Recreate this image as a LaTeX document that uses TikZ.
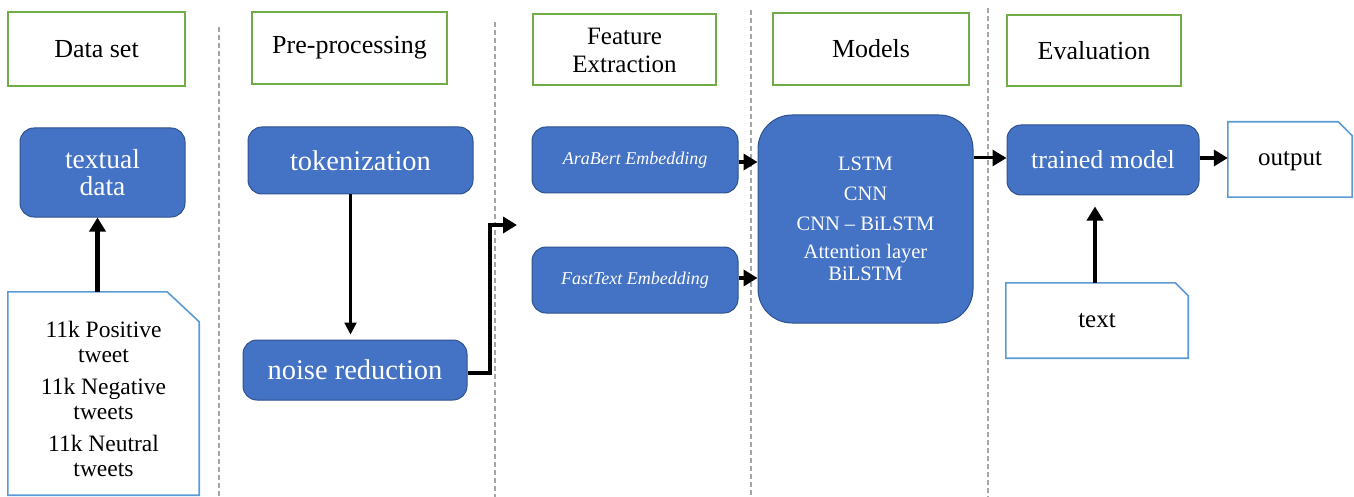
\documentclass[tikz,border=0pt]{standalone}
\usepackage{fontspec}
\setmainfont{Liberation Serif}
\usetikzlibrary{arrows.meta,calc}
\definecolor{bfill}{HTML}{4472C4}
\definecolor{bdraw}{HTML}{2F528F}
\definecolor{gdraw}{HTML}{70AD47}
\definecolor{ddraw}{HTML}{5B9BD5}
\definecolor{divc}{HTML}{A6A6A6}
\tikzset{
  hdr/.style={draw=gdraw,line width=2pt,fill=white,inner sep=0pt,align=center,
    font=\fontsize{26}{28}\selectfont},
  bluebox/.style={draw=bdraw,line width=1pt,fill=bfill,text=white,inner sep=0pt,
    rounded corners=14pt,align=center,font=\fontsize{28.5}{30}\selectfont},
  docbox/.style={inner sep=0pt,align=center,font=\fontsize{25}{28}\selectfont},
  docline/.style={draw=ddraw,line width=1.6pt,fill=white},
  divline/.style={draw=divc,line width=1.6pt,dash pattern=on 5pt off 3pt},
  arr/.style={line width=3.8pt,-{Triangle[length=14pt,width=16pt]}},
  thinarr/.style={line width=2.2pt,-{Triangle[length=12pt,width=12pt]}},
}
\begin{document}
\begin{tikzpicture}[x=1pt,y=-1pt]
\useasboundingbox (0,0) rectangle (1354,497);
% dividers
\draw[divline] (219,27) -- (219,497);
\draw[divline] (495,22) -- (495,497);
\draw[divline] (751,10) -- (751,497);
\draw[divline] (988,8) -- (988,497);
% headers
\node[hdr,minimum width=177pt,minimum height=74pt] (ds) at (96.5,49) {Data set};
\node[hdr,minimum width=195pt,minimum height=72pt] (pp) at (349.5,48) {Pre-processing};
\node[hdr,minimum width=183pt,minimum height=71pt,font=\fontsize{25}{28}\selectfont] (fe) at (624.5,50) {Feature\\Extraction};
\node[hdr,minimum width=196pt,minimum height=72pt] (md) at (871,49) {Models};
\node[hdr,minimum width=174pt,minimum height=71pt] (ev) at (1094,50.5) {Evaluation};
% blue boxes
\node[bluebox,minimum width=165pt,minimum height=89pt,font=\fontsize{27.5}{30}\selectfont] (td) at (102.5,172.5) {textual\\[-3pt]data};
\node[bluebox,minimum width=225pt,minimum height=67pt] (tok) at (360.5,160.5) {tokenization};
\node[bluebox,minimum width=224pt,minimum height=60pt] (nr) at (355,370) {noise reduction};
\node[bluebox,minimum width=206pt,minimum height=66pt,font=\fontsize{18}{20}\selectfont\itshape] (ara) at (635,160) {AraBert Embedding};
\node[bluebox,minimum width=206pt,minimum height=66pt,font=\fontsize{18}{20}\selectfont\itshape] (fast) at (635,280) {FastText Embedding};
\node[bluebox,minimum width=215pt,minimum height=208pt,rounded corners=34pt,
  font=\fontsize{20.5}{22}\selectfont] (mod) at (865.5,219)
  {LSTM\\[8pt]CNN\\[8pt]CNN -- BiLSTM\\[6pt]Attention layer\\BiLSTM};
\node[bluebox,minimum width=192pt,minimum height=70pt,font=\fontsize{26}{28}\selectfont] (tm) at (1103,160) {trained model};
% document shapes
\node[docbox,minimum width=124pt,minimum height=75pt] (out) at (1290,159.5) {};
\draw[docline] (out.south west) -- (out.north west) -- ([xshift=-14pt]out.north east)
  -- ([yshift=-14pt]out.north east) -- (out.south east) -- cycle;
\node[docbox] at ([yshift=-2pt]out.center) {output};
\node[docbox,minimum width=182pt,minimum height=75pt] (txt) at (1097,320.5) {};
\draw[docline] (txt.south west) -- (txt.north west) -- ([xshift=-13pt]txt.north east)
  -- ([yshift=-13pt]txt.north east) -- (txt.south east) -- cycle;
\node[docbox] at (txt.center) {text};
\node[docbox,minimum width=191pt,minimum height=203pt] (tw) at (103.5,393.5) {};
\draw[docline] (tw.south west) -- (tw.north west) -- ([xshift=-32pt]tw.north east)
  -- ([yshift=-30pt]tw.north east) -- (tw.south east) -- cycle;
\node[docbox,font=\fontsize{23.5}{25}\selectfont] at ([yshift=-5.5pt]tw.center)
  {11k Positive\\tweet\\[7pt]11k Negative\\tweets\\[7pt]11k Neutral\\tweets};
% connectors
\draw[arr,line width=4.2pt] ([xshift=-6pt]tw.north) -- ([xshift=-6pt]tw.north |- td.south);
\draw[thinarr,shorten >=5pt] ([xshift=-10pt]tok.south) -- ([xshift=-10pt]tok.south |- nr.north);
\coordinate (fein) at (517,225);
\draw[arr] ([yshift=-3pt]nr.east) -| (490,225) -- (fein);
\draw[arr] ([yshift=-2pt]ara.east) -- ([yshift=-2pt]ara.east -| mod.west);
\draw[arr] ([yshift=2pt]fast.east) -- ([yshift=2pt]fast.east -| mod.west);
\draw[arr,line width=3pt] ([yshift=2pt]mod.east |- tm.west) -- ([yshift=2pt]tm.west);
\draw[arr] ([yshift=2pt]tm.east) -- ([yshift=2pt]tm.east -| out.west);
\draw[arr,shorten >=11pt] ([xshift=-2pt]txt.north) -- ([xshift=-2pt]txt.north |- tm.south);
\end{tikzpicture}
\end{document}
